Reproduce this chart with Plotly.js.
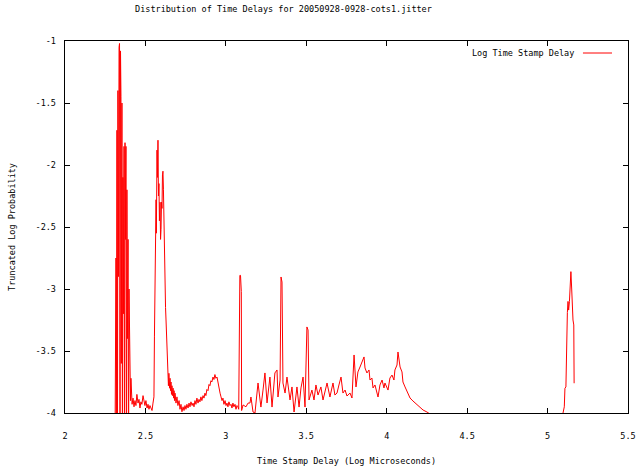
<!DOCTYPE html>
<html>
<head>
<meta charset="utf-8">
<script src="https://cdn.plot.ly/plotly-3.0.1.min.js"></script>
<style>html,body{margin:0;padding:0;background:#fff;}#chart{width:637px;height:474px;}</style>
</head>
<body>
<div id="chart"></div>
<script>
var chartTitle = "Distribution of Time Delays for 20050928-0928-cots1.jitter";
var seriesName = "Log Time Stamp Delay";
var xTitle = "Time Stamp Delay (Log Microseconds)";
var yTitle = "Truncated Log Probability";
var xTickVals = [2, 2.5, 3, 3.5, 4, 4.5, 5, 5.5];
var xTickText = ["2", "2.5", "3", "3.5", "4", "4.5", "5", "5.5"];
var yTickVals = [-1, -1.5, -2, -2.5, -3, -3.5, -4];
var yTickText = ["-1", "-1.5", "-2", "-2.5", "-3", "-3.5", "-4"];

// segment 1: main clusters and mid range
var delayA = [
2.310,2.317,2.319,2.323,2.326,2.329,2.332,2.336,2.339,2.342,2.345,2.348,2.350,2.354,2.357,2.360,2.363,2.367,2.370,2.373,
2.376,2.379,2.382,2.385,2.388,2.392,2.395,2.398,2.401,2.404,2.407,2.410,2.414,2.417,2.423,2.429,2.435,2.441,2.447,2.454,
2.460,2.466,2.472,2.478,2.485,2.491,2.497,2.503,2.510,2.516,2.522,2.528,2.535,2.541,2.547,2.553,2.556,2.559,2.562,2.566,
2.568,2.570,2.572,2.575,2.578,2.581,2.584,2.587,2.591,2.594,2.597,2.600,2.603,2.606,2.609,2.612,2.615,2.618,2.622,2.625,
2.628,2.631,2.634,2.637,2.640,2.643,2.646,2.650,2.653,2.656,2.659,2.662,2.665,2.668,2.672,2.675,2.678,2.681,2.684,2.690,
2.696,2.702,2.709,2.715,2.721,2.727,2.734,2.740,2.746,2.752,2.758,2.765,2.771,2.777,2.783,2.790,2.796,2.802,2.808,2.814,
2.820,2.827,2.833,2.839,2.845,2.851,2.858,2.864,2.870,2.876,2.882,2.889,2.895,2.901,2.907,2.913,2.920,2.926,2.932,2.938,
2.945,2.951,2.957,2.964,2.970,2.976,2.982,2.988,2.995,3.001,3.007,3.013,3.019,3.026,3.032,3.038,3.044,3.050,3.057,3.063,
3.069,3.075,3.080,3.082,3.086,3.087,3.091,3.093,3.096,3.098,3.107,3.125,3.138,3.150,3.156,3.169,3.181,3.200,3.218,3.231,
3.243,3.256,3.274,3.287,3.305,3.318,3.324,3.337,3.343,3.349,3.355,3.368,3.380,3.399,3.411,3.424,3.442,3.455,3.467,3.480,
3.492,3.504,3.511,3.517,3.535,3.548,3.560,3.573,3.591,3.604,3.616,3.629,3.647,3.666,3.678,3.691,3.703,3.716,3.728,3.741,
3.753,3.772,3.784,3.797,3.809,3.821,3.834,3.846,3.859,3.865,3.877,3.890,3.896,3.908,3.915,3.927,3.946,3.958,3.971,3.983,
3.989,4.008,4.020,4.033,4.045,4.051,4.064,4.070,4.076,4.083,4.095,4.101,4.114,4.126,4.145,4.163,4.188,4.207,4.226,4.250,
4.269,4.275
];
var logProbA = [
-4.5,-2.75,-4.5,-1.72,-4.5,-1.40,-2.90,-1.05,-1.02,-4.5,-1.08,-1.45,-3.60,-1.50,-4.5,-2.10,-3.20,-1.85,-4.5,-1.82,
-2.60,-1.85,-4.5,-2.20,-3.40,-2.60,-4.5,-3.00,-3.50,-3.35,-3.90,-3.72,-3.85,-3.93,-3.88,-3.95,-3.90,-3.94,-3.85,-3.92,
-3.89,-3.96,-3.91,-3.93,-3.86,-3.92,-3.94,-3.90,-3.96,-3.93,-3.97,-3.94,-3.96,-3.98,-3.92,-3.87,-3.38,-2.87,-2.60,-2.28,
-2.55,-2.05,-1.88,-2.10,-1.80,-2.25,-2.15,-2.45,-2.30,-2.60,-2.52,-2.30,-2.35,-2.08,-2.05,-2.20,-2.52,-2.80,-2.95,-3.15,
-3.25,-3.35,-3.45,-3.60,-3.70,-3.78,-3.68,-3.80,-3.72,-3.82,-3.75,-3.85,-3.78,-3.86,-3.80,-3.88,-3.82,-3.90,-3.84,-3.92,
-3.87,-3.94,-3.90,-3.97,-3.93,-3.99,-3.95,-3.98,-3.94,-3.97,-3.93,-3.96,-3.92,-3.95,-3.91,-3.94,-3.92,-3.95,-3.90,-3.93,
-3.88,-3.92,-3.89,-3.91,-3.87,-3.90,-3.86,-3.88,-3.84,-3.86,-3.81,-3.82,-3.77,-3.78,-3.74,-3.75,-3.71,-3.73,-3.69,-3.72,
-3.71,-3.76,-3.80,-3.84,-3.87,-3.90,-3.88,-3.93,-3.90,-3.94,-3.92,-3.95,-3.91,-3.94,-3.93,-3.96,-3.92,-3.95,-3.93,-3.97,
-3.94,-3.95,-3.97,-3.49,-3.49,-2.89,-2.89,-3.02,-3.02,-3.98,-3.935,-3.95,-3.92,-3.919,-3.871,-3.992,-4.0,-3.758,-3.952,-3.815,
-3.677,-3.919,-3.710,-3.952,-3.677,-3.653,-3.871,-3.734,-2.903,-2.944,-3.758,-3.839,-3.710,-3.895,-3.790,-3.992,-3.790,-3.952,-3.798,-3.710,
-3.952,-3.306,-3.331,-3.895,-3.815,-3.895,-3.774,-3.855,-3.790,-3.895,-3.823,-3.758,-3.871,-3.758,-3.855,-3.839,-3.774,-3.710,-3.839,-3.815,
-3.863,-3.839,-3.879,-3.532,-3.790,-3.669,-3.629,-3.589,-3.548,-3.637,-3.677,-3.653,-3.734,-3.718,-3.798,-3.774,-3.871,-3.774,-3.734,-3.798,
-3.758,-3.815,-3.718,-3.694,-3.734,-3.653,-3.613,-3.508,-3.573,-3.629,-3.669,-3.750,-3.790,-3.831,-3.879,-3.903,-3.935,-3.952,-3.976,-3.992,
-4.008,-4.2
];

// segment 2: far peak
var delayB = [5.090,5.096,5.104,5.108,5.114,5.117,5.121,5.123,5.127,5.131,5.136,5.139,5.145,5.150,5.152,5.158,5.163,5.165];
var logProbB = [-4.2,-4.0,-3.95,-3.80,-3.79,-3.52,-3.52,-3.19,-3.10,-3.17,-3.10,-2.98,-2.86,-3.00,-3.11,-3.25,-3.29,-3.76];

var delay = delayA.concat([null], delayB);
var logProb = logProbA.concat([null], logProbB);

var monoFont = {family: "DejaVu Sans Mono, monospace", size: 8.5, color: "#000"};

var trace = {
  x: delay, y: logProb, type: "scatter", mode: "lines", name: seriesName,
  line: {color: "#ff0000", width: 1}, connectgaps: false, showlegend: false,
  cliponaxis: true
};

var layout = {
  width: 637, height: 474,
  margin: {l: 65, r: 9, t: 41, b: 61},
  paper_bgcolor: "#fff", plot_bgcolor: "#fff",
  font: monoFont,
  title: {text: chartTitle, font: monoFont, x: 0.445, xanchor: "center", y: 0.981, yanchor: "middle"},
  xaxis: {
    range: [2, 5.5], tickvals: xTickVals, ticktext: xTickText,
    ticks: "inside", ticklen: 5, tickcolor: "#000", tickwidth: 1,
    showgrid: false, zeroline: false, showline: true, linecolor: "#000", linewidth: 1.3, mirror: "allticks",
    ticklabelstandoff: 14, tickfont: monoFont,
    title: {text: xTitle, font: monoFont, standoff: 18}
  },
  yaxis: {
    range: [-4, -1], tickvals: yTickVals, ticktext: yTickText,
    ticks: "inside", ticklen: 5, tickcolor: "#000", tickwidth: 1,
    showgrid: false, zeroline: false, showline: true, linecolor: "#000", linewidth: 1.3, mirror: "allticks",
    ticklabelstandoff: 6, tickfont: monoFont,
    title: {text: yTitle, font: monoFont, standoff: 18}
  },
  annotations: [{
    xref: "paper", yref: "paper", x: 0.9076, y: 0.9677, xanchor: "right", yanchor: "middle",
    text: seriesName, showarrow: false, font: monoFont
  }],
  shapes: [{
    type: "line", xref: "paper", yref: "paper", x0: 0.920, x1: 0.9716, y0: 0.9677, y1: 0.9677,
    line: {color: "#ff0000", width: 1}
  }]
};

Plotly.newPlot("chart", [trace], layout, {displayModeBar: false, staticPlot: true});
</script>
</body>
</html>
